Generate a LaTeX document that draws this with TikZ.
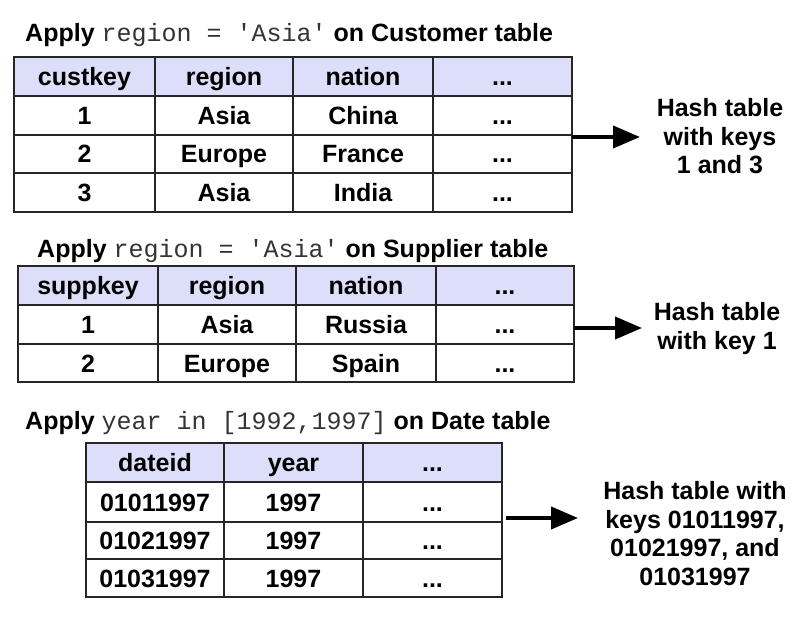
\documentclass[tikz,border=0pt]{standalone}
\usepackage{fontspec}
\setmainfont{Liberation Sans}
\setmonofont{Liberation Mono}
\usetikzlibrary{arrows.meta}
\definecolor{hdr}{RGB}{221,223,250}
\newcommand{\codetxt}[1]{{\mdseries\ttfamily\color{black!80}#1}}
\tikzset{
  cell/.style={font=\bfseries\fontsize{25}{30}\selectfont, text height=18pt, text depth=0pt, inner sep=0pt},
  ttl/.style={anchor=base west, inner sep=0pt, font=\bfseries\fontsize{25}{30}\selectfont},
  gridline/.style={line width=2pt, draw=black!85},
  hashtext/.style={align=center, font=\bfseries\fontsize{25}{28.5}\selectfont, inner sep=0pt},
  bigarrow/.style={line width=4pt, -{Triangle[length=27pt,width=22pt]}},
}
\begin{document}
\begin{tikzpicture}[x=1pt,y=-1pt]
\useasboundingbox (0,0) rectangle (808,620);

% ---------- Table 1 ----------
\node[ttl] (title1) at (25,42) {Apply \codetxt{region = 'Asia'} on Customer table};
\fill[hdr] (14,57) rectangle (572,96);
\draw[gridline] (14,57) rectangle (572,212);
\draw[gridline] (14,96) -- (572,96) (14,135) -- (572,135) (14,173) -- (572,173);
\draw[gridline] (155,57) -- (155,212) (293,57) -- (293,212) (433,57) -- (433,212);
\node[cell] (t1-0-1) at (84.5,76.5) {custkey};
\node[cell] (t1-0-2) at (224,76.5) {region};
\node[cell] (t1-0-3) at (363,76.5) {nation};
\node[cell] (t1-0-4) at (502.5,76.5) {...};
\node[cell] (t1-1-1) at (84.5,115.5) {1};
\node[cell] (t1-1-2) at (224,115.5) {Asia};
\node[cell] (t1-1-3) at (363,115.5) {China};
\node[cell] (t1-1-4) at (502.5,115.5) {...};
\node[cell] (t1-2-1) at (84.5,154) {2};
\node[cell] (t1-2-2) at (224,154) {Europe};
\node[cell] (t1-2-3) at (363,154) {France};
\node[cell] (t1-2-4) at (502.5,154) {...};
\node[cell] (t1-3-1) at (84.5,192.5) {3};
\node[cell] (t1-3-2) at (224,192.5) {Asia};
\node[cell] (t1-3-3) at (363,192.5) {India};
\node[cell] (t1-3-4) at (502.5,192.5) {...};
\node[hashtext] (hash1) at (720,136.5) {Hash table\\with keys\\1 and 3};
\coordinate (a1s) at (572,137);
\coordinate (a1e) at (640,137);
\draw[bigarrow] (a1s) -- (a1e);

% ---------- Table 2 ----------
\node[ttl] (title2) at (37,258) {Apply \codetxt{region = 'Asia'} on Supplier table};
\fill[hdr] (18,266) rectangle (574,305);
\draw[gridline] (18,266) rectangle (574,382);
\draw[gridline] (18,305) -- (574,305) (18,344) -- (574,344);
\draw[gridline] (158,266) -- (158,382) (296,266) -- (296,382) (436,266) -- (436,382);
\node[cell] (t2-0-1) at (88,285.5) {suppkey};
\node[cell] (t2-0-2) at (227,285.5) {region};
\node[cell] (t2-0-3) at (366,285.5) {nation};
\node[cell] (t2-0-4) at (505,285.5) {...};
\node[cell] (t2-1-1) at (88,324.5) {1};
\node[cell] (t2-1-2) at (227,324.5) {Asia};
\node[cell] (t2-1-3) at (366,324.5) {Russia};
\node[cell] (t2-1-4) at (505,324.5) {...};
\node[cell] (t2-2-1) at (88,363) {2};
\node[cell] (t2-2-2) at (227,363) {Europe};
\node[cell] (t2-2-3) at (366,363) {Spain};
\node[cell] (t2-2-4) at (505,363) {...};
\node[hashtext] (hash2) at (717,328.5) {Hash table\\with key 1};
\coordinate (a2s) at (574,328);
\coordinate (a2e) at (642,328);
\draw[bigarrow] (a2s) -- (a2e);

% ---------- Table 3 ----------
\node[ttl] (title3) at (25,429) {Apply \codetxt{year in [1992,1997]} on Date table};
\fill[hdr] (86,443) rectangle (502,482);
\draw[gridline] (86,443) rectangle (502,597);
\draw[gridline] (86,482) -- (502,482) (86,522) -- (502,522) (86,559) -- (502,559);
\draw[gridline] (224,443) -- (224,597) (363,443) -- (363,597);
\node[cell] (t3-0-1) at (155,462.5) {dateid};
\node[cell] (t3-0-2) at (293.5,462.5) {year};
\node[cell] (t3-0-3) at (432.5,462.5) {...};
\node[cell] (t3-1-1) at (155,502) {01011997};
\node[cell] (t3-1-2) at (293.5,502) {1997};
\node[cell] (t3-1-3) at (432.5,502) {...};
\node[cell] (t3-2-1) at (155,540.5) {01021997};
\node[cell] (t3-2-2) at (293.5,540.5) {1997};
\node[cell] (t3-2-3) at (432.5,540.5) {...};
\node[cell] (t3-3-1) at (155,578) {01031997};
\node[cell] (t3-3-2) at (293.5,578) {1997};
\node[cell] (t3-3-3) at (432.5,578) {...};
\node[hashtext] (hash3) at (695,533.5) {Hash table with\\keys 01011997,\\01021997, and\\01031997};
\coordinate (a3s) at (506,518);
\coordinate (a3e) at (578,518);
\draw[bigarrow] (a3s) -- (a3e);
\end{tikzpicture}
\end{document}
